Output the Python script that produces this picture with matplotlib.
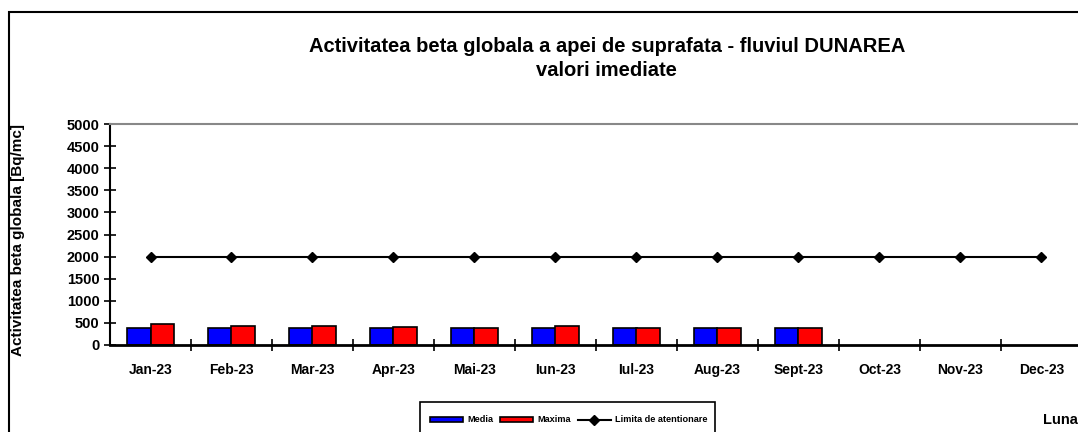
import matplotlib.pyplot as plt
import numpy as np

luni = ['Jan-23', 'Feb-23', 'Mar-23', 'Apr-23', 'Mai-23', 'Iun-23',
        'Iul-23', 'Aug-23', 'Sept-23', 'Oct-23', 'Nov-23', 'Dec-23']
media = [380, 380, 380, 380, 380, 380, 380, 380, 380, np.nan, np.nan, np.nan]
maxima = [470, 420, 420, 415, 380, 420, 380, 380, 380, np.nan, np.nan, np.nan]
limita = [2000] * 12

plt.rcParams['font.family'] = ['Liberation Sans', 'DejaVu Sans']

fig = plt.figure(figsize=(10.78, 4.32), dpi=100)

# outer chart frame (cut off at right and bottom like the original)
frame = plt.Rectangle((9 / 1078, -0.1), 1.2, (432 - 12) / 432 + 0.1,
                      transform=fig.transFigure, fill=False,
                      edgecolor='black', linewidth=1.5)
fig.patches.append(frame)

ax = fig.add_axes([110 / 1078, 87 / 432, 972 / 1078, 221 / 432])

x = np.arange(len(luni))
w = 0.29
b1 = ax.bar(x - w / 2, media, w, color='#0000ff', edgecolor='black',
            linewidth=1.2, label='Media')
b2 = ax.bar(x + w / 2, maxima, w, color='#ff0000', edgecolor='black',
            linewidth=1.2, label='Maxima')
l1, = ax.plot(x, limita, color='black', linewidth=1.5, marker='D',
              markersize=5, label='Limita de atentionare')

ax.set_xlim(-0.5, len(luni) - 0.5)
ax.set_ylim(0, 5000)
ax.set_yticks(np.arange(0, 5001, 500))
ax.set_xticks(x)
ax.set_xticklabels(luni, fontsize=10, fontweight='bold', va='baseline')
ax.set_xticks(np.arange(0.5, len(luni) - 0.5, 1), minor=True)
ax.tick_params(axis='x', which='major', length=0, pad=21)
ax.tick_params(axis='x', which='minor', direction='inout', length=8, width=1.2)
ax.tick_params(axis='y', direction='inout', length=8, width=1.2, labelsize=10.5)
for lab in ax.get_yticklabels():
    lab.set_fontweight('bold')

ax.spines['left'].set_linewidth(1.5)
ax.spines['bottom'].set_linewidth(2)
ax.spines['top'].set_color('#888888')
ax.spines['top'].set_linewidth(1.5)
ax.spines['right'].set_color('#888888')

fig.text(18 / 1078, 1 - 240 / 432, 'Activitatea beta globala [Bq/mc]',
         rotation=90, ha='center', va='center', fontsize=11,
         fontweight='bold')

fig.text(0.563, 1 - 46 / 432,
         'Activitatea beta globala a apei de suprafata - fluviul DUNAREA',
         ha='center', va='center', fontsize=14.5, fontweight='bold')
fig.text(0.563, 1 - 70 / 432, 'valori imediate', ha='center', va='center',
         fontsize=14.5, fontweight='bold')

fig.text(1.0, 1 - 420 / 432, 'Luna', ha='right', va='center', fontsize=10.5,
         fontweight='bold')

# legend box, bottom edge falls outside the picture as in the original
legbox = plt.Rectangle((420 / 1078, -0.05), 295 / 1078, (432 - 402) / 432 + 0.05,
                       transform=fig.transFigure, fill=True, facecolor='white',
                       edgecolor='black', linewidth=1.2)
fig.patches.append(legbox)

leg = fig.legend([b1, b2, l1], ['Media', 'Maxima', 'Limita de atentionare'],
                 loc='center left', bbox_to_anchor=(424 / 1078, 1 - 420 / 432),
                 ncol=3, frameon=False,
                 prop={'weight': 'bold', 'size': 6.6},
                 handlelength=3.6, handleheight=0.5,
                 columnspacing=0.8, handletextpad=0.4, borderpad=0.2)

fig.savefig('out.png', dpi=100)
